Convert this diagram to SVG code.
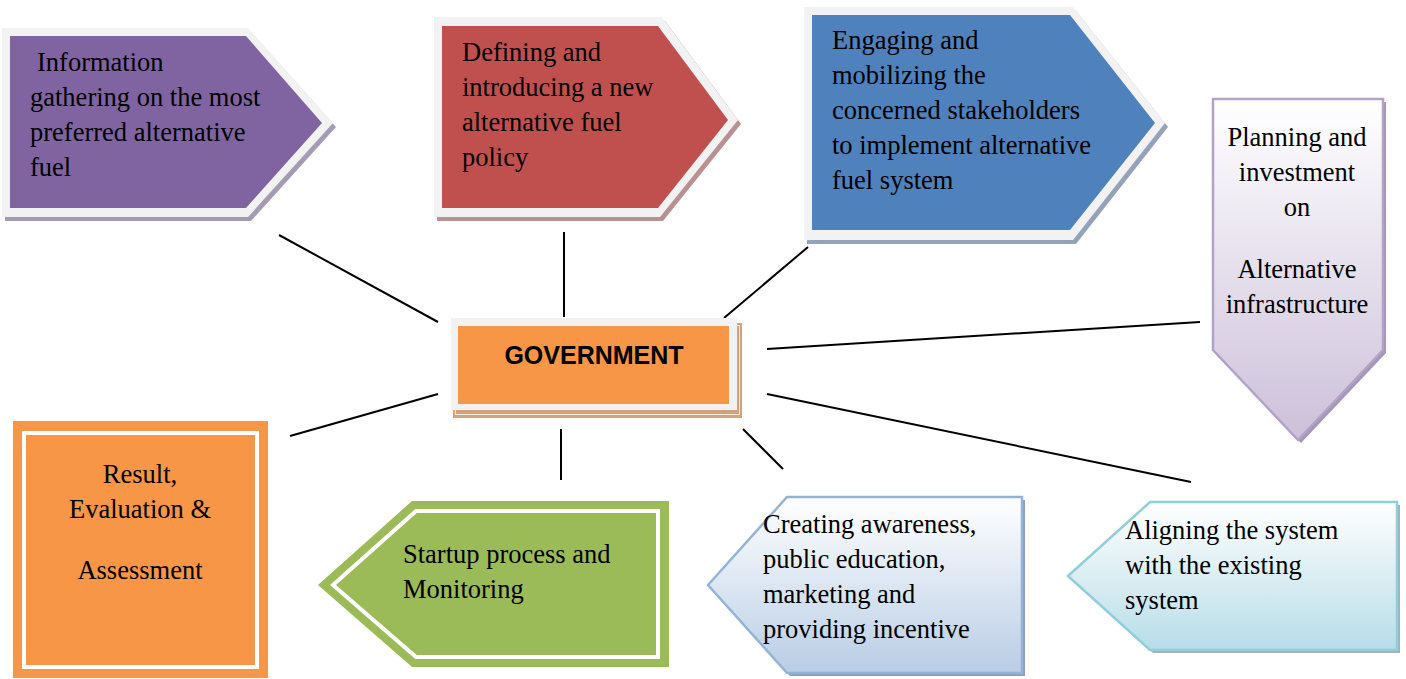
<svg xmlns="http://www.w3.org/2000/svg" width="1406" height="679" viewBox="0 0 1406 679">
  <style>
    .lbl { font-family: "Liberation Serif", "Times New Roman", serif; font-size: 26.5px; fill: #000; }
    .mid { text-anchor: middle; }
    .rim { fill: #f2f2f2; }
    .conn line { stroke: #000; stroke-width: 2; stroke-linecap: butt; }
  </style>
  <defs>
    <linearGradient id="gLav" x1="0" y1="0" x2="0" y2="1">
      <stop offset="0" stop-color="#ffffff"/>
      <stop offset="1" stop-color="#ccc0da"/>
    </linearGradient>
    <linearGradient id="gBlue" x1="0" y1="0" x2="0" y2="1">
      <stop offset="0" stop-color="#ffffff"/>
      <stop offset="1" stop-color="#b9cde5"/>
    </linearGradient>
    <linearGradient id="gAqua" x1="0" y1="0" x2="0" y2="1">
      <stop offset="0" stop-color="#ffffff"/>
      <stop offset="1" stop-color="#b7dde8"/>
    </linearGradient>
  </defs>

  <rect width="1406" height="679" fill="#ffffff"/>

  <!-- spokes from the central box -->
  <g id="connectors" class="conn">
    <line x1="279" y1="235" x2="438" y2="322"/>
    <line x1="564" y1="232" x2="564" y2="317"/>
    <line x1="808" y1="247" x2="724" y2="318"/>
    <line x1="767" y1="349" x2="1200" y2="322"/>
    <line x1="767" y1="394" x2="1191" y2="482"/>
    <line x1="743" y1="429" x2="783" y2="469"/>
    <line x1="561" y1="429" x2="561" y2="480"/>
    <line x1="438" y1="394" x2="290" y2="436"/>
  </g>

  <!-- Information gathering -->
  <g id="node-information">
    <polygon points="5,32 251,32 336,127 251,221 5,221" fill="#a59cb3"/>
    <polygon class="rim" points="2,28 248,28 333,123 248,217 2,217"/>
    <polygon points="10,36 246,36 322,123 246,208 10,208" fill="#8064a2"/>
    <text class="lbl" x="37" y="71">Information</text>
    <text class="lbl" x="30" y="106">gathering on the most</text>
    <text class="lbl" x="30" y="141">preferred alternative</text>
    <text class="lbl" x="30" y="176">fuel</text>
  </g>

  <!-- Defining policy -->
  <g id="node-policy">
    <polygon points="437,21 665,21 741,124 663,221 437,221" fill="#b89190"/>
    <polygon class="rim" points="434,17 662,17 738,120 660,217 434,217"/>
    <polygon points="442,26 658,26 728,120 658,208 442,208" fill="#c0504d"/>
    <text class="lbl" x="462" y="61">Defining and</text>
    <text class="lbl" x="462" y="96">introducing a new</text>
    <text class="lbl" x="462" y="131">alternative fuel</text>
    <text class="lbl" x="462" y="166">policy</text>
  </g>

  <!-- Engaging stakeholders -->
  <g id="node-stakeholders">
    <polygon points="807,11 1076,11 1168,127 1076,244 807,244" fill="#94a3b9"/>
    <polygon class="rim" points="804,7 1073,7 1165,123 1073,240 804,240"/>
    <polygon points="812,15 1070,15 1155,123 1070,230 812,230" fill="#4f81bd"/>
    <text class="lbl" x="832" y="49">Engaging and</text>
    <text class="lbl" x="832" y="84">mobilizing the</text>
    <text class="lbl" x="832" y="119">concerned stakeholders</text>
    <text class="lbl" x="832" y="154">to implement alternative</text>
    <text class="lbl" x="832" y="189">fuel system</text>
  </g>

  <!-- Government hub -->
  <g id="node-government">
    <rect x="453" y="323" width="289" height="95" fill="#d4a27d"/>
    <rect x="455.5" y="325.5" width="284" height="89" fill="none" stroke="#f6ebe1" stroke-width="1"/>
    <rect class="rim" x="451" y="318" width="286" height="92"/>
    <rect x="458" y="326" width="271" height="78" fill="#f79646"/>
    <text x="594" y="364" text-anchor="middle" font-family="'Liberation Sans', Arial, sans-serif" font-weight="bold" font-size="25">GOVERNMENT</text>
  </g>

  <!-- Planning and investment -->
  <g id="node-planning">
    <polygon points="1216,102 1386,102 1386,353 1301,443 1216,353" fill="#a497b8"/>
    <polygon points="1213,99 1383,99 1383,350 1298,440 1213,350" fill="url(#gLav)" stroke="#b3a2c7" stroke-width="2.5"/>
    <text class="lbl mid" x="1297" y="146">Planning and</text>
    <text class="lbl mid" x="1297" y="181">investment</text>
    <text class="lbl mid" x="1297" y="216">on</text>
    <text class="lbl mid" x="1297" y="278">Alternative</text>
    <text class="lbl mid" x="1297" y="313">infrastructure</text>
  </g>

  <!-- Result, evaluation and assessment -->
  <g id="node-result">
    <rect x="13" y="421" width="255" height="257" fill="#f79646"/>
    <rect x="24" y="433" width="233" height="234" fill="none" stroke="#ffffff" stroke-width="4"/>
    <text class="lbl mid" x="140" y="483">Result,</text>
    <text class="lbl mid" x="140" y="518">Evaluation &amp;</text>
    <text class="lbl mid" x="140" y="579">Assessment</text>
  </g>

  <!-- Startup process -->
  <g id="node-startup">
    <polygon points="318,585 412,501 669,501 669,667 412,667" fill="#9bbb59"/>
    <polygon points="333,585 416,511 658,511 658,657 416,657" fill="none" stroke="#ffffff" stroke-width="4"/>
    <text class="lbl" x="403" y="563">Startup process and</text>
    <text class="lbl" x="403" y="598">Monitoring</text>
  </g>

  <!-- Awareness and incentives -->
  <g id="node-awareness">
    <polygon points="711,588 790,500 1025,500 1025,676 790,676" fill="#8e9fbb"/>
    <polygon points="708,585 787,497 1022,497 1022,673 787,673" fill="url(#gBlue)" stroke="#95b3d7" stroke-width="2.5"/>
    <text class="lbl" x="763" y="533">Creating awareness,</text>
    <text class="lbl" x="763" y="568">public education,</text>
    <text class="lbl" x="763" y="603">marketing and</text>
    <text class="lbl" x="763" y="638">providing incentive</text>
  </g>

  <!-- Aligning with the existing system -->
  <g id="node-aligning">
    <polygon points="1071,579 1153,505 1400,505 1400,653 1153,653" fill="#9fb3bc"/>
    <polygon points="1068,576 1150,502 1397,502 1397,650 1150,650" fill="url(#gAqua)" stroke="#92cddc" stroke-width="2.5"/>
    <text class="lbl" x="1125" y="539">Aligning the system</text>
    <text class="lbl" x="1125" y="574">with the existing</text>
    <text class="lbl" x="1125" y="609">system</text>
  </g>
</svg>
